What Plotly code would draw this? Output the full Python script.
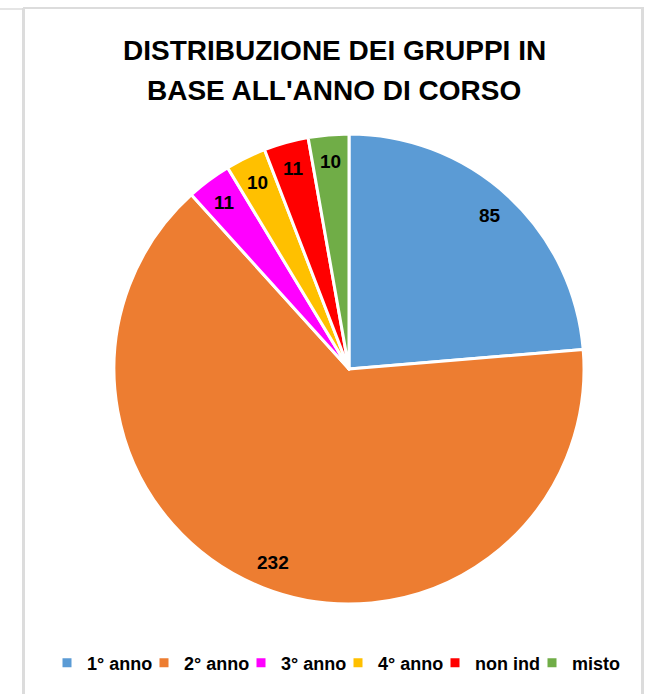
import math
import plotly.graph_objects as go

categories = ["1° anno", "2° anno", "3° anno", "4° anno", "non ind", "misto"]
values = [85, 232, 11, 10, 11, 10]
colors = ["#5B9BD5", "#ED7D31", "#FF00FF", "#FFC000", "#FF0000", "#70AD47"]
title_lines = ["DISTRIBUZIONE DEI GRUPPI IN", "BASE ALL'ANNO DI CORSO"]

W, H = 645, 694
cx, cy, R = 349, 369, 235  # pixel centre/radius of pie

FONT = "Liberation Sans, Arial"

fig = go.Figure(go.Pie(
    labels=[f"<b>{c}</b>" for c in categories], values=values, sort=False,
    direction="clockwise", rotation=0,
    marker=dict(colors=colors, line=dict(color="white", width=3)),
    textinfo="none", hoverinfo="label+value",
    domain=dict(x=[(cx - R) / W, (cx + R) / W],
                y=[(H - cy - R) / H, (H - cy + R) / H]),
))

# data labels near the outer edge along each slice's mid-angle
total = sum(values)
cum = 0
for v in values:
    mid = (cum + v / 2) / total * 2 * math.pi
    cum += v
    r = 0.885 * R
    px = cx + r * math.sin(mid)
    py = cy - r * math.cos(mid)
    fig.add_annotation(x=px / W, y=1 - py / H, xref="paper", yref="paper",
                       xanchor="center", yanchor="middle",
                       text=f"<b>{v}</b>", showarrow=False,
                       font=dict(family=FONT, size=19, color="black"))

for line, ty in zip(title_lines, [50, 90]):
    fig.add_annotation(x=334 / W, y=1 - ty / H, xref="paper", yref="paper",
                       text=f"<b>{line}</b>", showarrow=False,
                       xanchor="center", yanchor="middle",
                       font=dict(family=FONT, size=28, color="black"))

# frame lines
line_col = "#DCDCDC"
fig.add_shape(type="line", xref="paper", yref="paper", x0=23.5 / W, x1=23.5 / W,
              y0=1 - 8 / H, y1=0, line=dict(color=line_col, width=3))
fig.add_shape(type="line", xref="paper", yref="paper", x0=642.5 / W, x1=642.5 / W,
              y0=1 - 8 / H, y1=0, line=dict(color=line_col, width=3))
fig.add_shape(type="line", xref="paper", yref="paper", x0=23 / W, x1=644 / W,
              y0=1 - 8 / H, y1=1 - 8 / H, line=dict(color=line_col, width=2))
fig.add_shape(type="line", xref="paper", yref="paper", x0=0, x1=22 / W,
              y0=1 - 9 / H, y1=1 - 9 / H, line=dict(color=line_col, width=1.5))

fig.update_layout(
    width=W, height=H, margin=dict(l=0, r=0, t=0, b=0, autoexpand=False),
    paper_bgcolor="white", plot_bgcolor="white",
    showlegend=True,
    legend=dict(orientation="h", x=47 / W, xanchor="left",
                y=1 - 663 / H, yanchor="middle",
                font=dict(family=FONT, size=18, color="black"),
                itemwidth=30, entrywidth=52, entrywidthmode="pixels",
                bgcolor="rgba(0,0,0,0)"),
)

fig.write_html("out.html", config={"displayModeBar": False},
               post_script="document.body.style.margin='0';"
                           "document.body.style.overflow='hidden';")
